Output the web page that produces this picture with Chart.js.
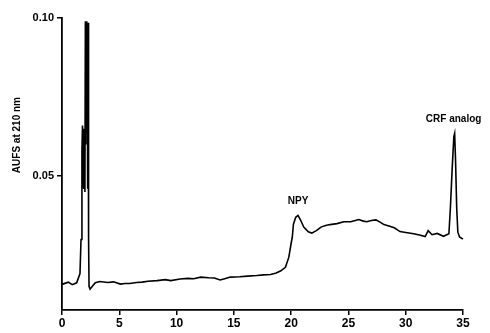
<!DOCTYPE html>
<html>
<head>
<meta charset="utf-8">
<script src="https://cdn.jsdelivr.net/npm/chart.js@4/dist/chart.umd.min.js"></script>
<style>
  html, body { margin: 0; padding: 0; background: #fff; }
  #wrap { width: 490px; height: 333px; }
</style>
</head>
<body>
<div id="wrap"><canvas id="myChart"></canvas></div>
<script>
// retention time (min)
const times = [
  0, 0.55, 0.9, 1.28, 1.57, 1.66, 1.74, 1.79,
  1.84, 1.88, 1.92, 1.96, 2.0, 2.04, 2.08, 2.12, 2.16, 2.2, 2.24, 2.28, 2.32, 2.36,
  2.45, 2.6, 2.9, 3.3, 4.0, 4.5, 5.1, 5.5, 5.9, 6.5, 7.0, 7.5, 8.3, 9.0, 9.5,
  10.3, 11.0, 11.5, 12.1, 12.8, 13.3, 13.8, 14.2, 14.7, 15.5, 16.2, 17.0, 17.6,
  18.2, 18.7, 19.1, 19.5, 19.8, 20.0, 20.1, 20.2, 20.4, 20.6, 20.8, 21.1, 21.5,
  21.8, 22.2, 22.6, 23.0, 23.4, 24.0, 24.6, 25.2, 25.6, 25.9, 26.3, 26.6, 27.0,
  27.4, 27.8, 28.1, 28.6, 29.0, 29.5, 30.0, 30.7, 31.2, 31.7, 31.96, 32.3, 32.75,
  33.3, 33.77, 33.9, 34.05, 34.2, 34.27, 34.35, 34.45, 34.55, 34.7, 35.0, 35.3
];
// absorbance (AUFS at 210 nm)
const absorbance = [
  0.0158, 0.0165, 0.0157, 0.0163, 0.0192, 0.030, 0.058, 0.066,
  0.048, 0.065, 0.046, 0.064, 0.045, 0.099, 0.060, 0.099, 0.070, 0.0985, 0.046, 0.0985, 0.030, 0.0152,
  0.0143, 0.0150, 0.0163, 0.0167, 0.0164, 0.0166, 0.0159, 0.0161, 0.0161, 0.0164, 0.0165, 0.0168, 0.0170, 0.0173, 0.0170,
  0.0175, 0.0177, 0.0176, 0.0181, 0.0179, 0.0178, 0.0172, 0.0176, 0.0181, 0.0182, 0.0184, 0.0186, 0.0188,
  0.0189, 0.0194, 0.0201, 0.0212, 0.0244, 0.0288, 0.0307, 0.0348, 0.0370, 0.0376, 0.0363, 0.0339, 0.0324,
  0.0320, 0.0328, 0.0339, 0.0344, 0.0347, 0.0350, 0.0356, 0.0356, 0.0360, 0.0363, 0.0358, 0.0356, 0.0360,
  0.0362, 0.0354, 0.0347, 0.0342, 0.0337, 0.0325, 0.0322, 0.0318, 0.0314, 0.0309, 0.0328, 0.0315, 0.0319,
  0.0310, 0.0318, 0.0400, 0.0520, 0.0625, 0.0635, 0.0550, 0.0400, 0.0323, 0.0308, 0.0301, 0.0302
];
const yTicks = [0.05, 0.10];
const yTitle = 'AUFS at 210 nm';
const peakLabels = [
  { text: 'NPY', x: 20.6, y: 0.0376, dx: 0, dy: -14 },
  { text: 'CRF analog', x: 34.27, y: 0.0635, dx: -1, dy: -14 }
];

const points = times.map((t, i) => ({ x: t, y: absorbance[i] }));
const boldFont = '"Liberation Sans", Arial, sans-serif';

const labelPlugin = {
  id: 'peakLabels',
  afterDatasetsDraw(chart) {
    const ctx = chart.ctx;
    const xs = chart.scales.x, ys = chart.scales.y;
    ctx.save();
    ctx.fillStyle = '#000';
    ctx.font = 'bold 10px ' + boldFont;
    ctx.textAlign = 'center';
    ctx.textBaseline = 'middle';
    peakLabels.forEach(l => {
      ctx.fillText(l.text, xs.getPixelForValue(l.x) + l.dx, ys.getPixelForValue(l.y) + l.dy);
    });
    // y axis title, sits above the middle of the axis like the original
    ctx.translate(17, (ys.getPixelForValue(0.10) + ys.getPixelForValue(0.05)) / 2 + 38);
    ctx.rotate(-Math.PI / 2);
    ctx.fillText(yTitle, 0, 0);
    ctx.restore();
  }
};

new Chart(document.getElementById('myChart'), {
  type: 'line',
  data: {
    datasets: [{
      data: points,
      borderColor: '#000',
      borderWidth: 1.6,
      pointRadius: 0,
      tension: 0,
      fill: false,
      clip: false
    }]
  },
  options: {
    responsive: true,
    maintainAspectRatio: false,
    animation: false,
    layout: { padding: { top: 18, right: 27, left: 0, bottom: 0 } },
    plugins: { legend: { display: false }, tooltip: { enabled: false } },
    scales: {
      x: {
        type: 'linear',
        min: 0,
        max: 35,
        afterFit(scale) { scale.height = 23; },
        ticks: {
          stepSize: 5,
          color: '#000',
          padding: 1,
          maxRotation: 0,
          font: { family: boldFont, size: 12, weight: 'bold' }
        },
        grid: { drawOnChartArea: false, drawTicks: true, tickLength: 5, color: '#000', lineWidth: 1.5 },
        border: { display: true, color: '#000', width: 1.8 }
      },
      y: {
        type: 'linear',
        min: 0.0077,
        max: 0.10,
        afterFit(scale) { scale.width = 62; },
        afterBuildTicks(scale) { scale.ticks = yTicks.map(v => ({ value: v })); },
        ticks: {
          color: '#000',
          padding: 3,
          callback: v => v.toFixed(2),
          font: { family: boldFont, size: 11, weight: 'bold' }
        },
        grid: { drawOnChartArea: false, drawTicks: true, tickLength: 5, color: '#000', lineWidth: 1.5 },
        border: { display: true, color: '#000', width: 1.8 }
      }
    }
  },
  plugins: [labelPlugin]
});
</script>
</body>
</html>
